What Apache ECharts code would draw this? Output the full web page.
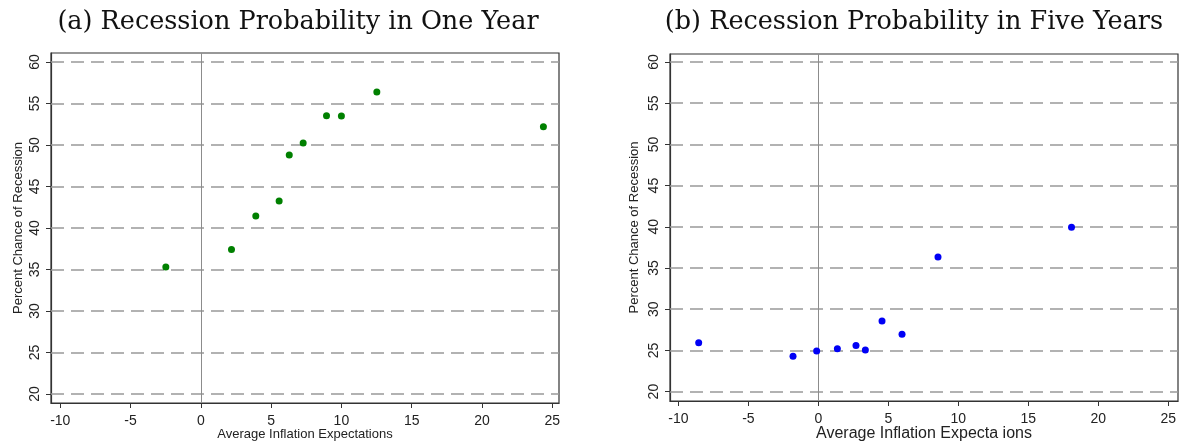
<!DOCTYPE html>
<html>
<head>
<meta charset="utf-8">
<script src="https://cdn.jsdelivr.net/npm/echarts@6/dist/echarts.min.js"></script>
<style>
html,body{margin:0;padding:0;background:#fff;}
#chart{width:1181px;height:447px;}
</style>
</head>
<body>
<div id="chart"></div>
<script>
// ---- data ----
const titles = ['(a) Recession Probability in One Year', '(b) Recession Probability in Five Years'];
const xNames = ['Average Inflation Expectations', 'Average Inflation Expecta ions'];
const yName = 'Percent Chance of Recession';
const xTicks = [-10, -5, 0, 5, 10, 15, 20, 25];
const yTicks = [20, 25, 30, 35, 40, 45, 50, 55, 60];
const oneYearX = [-2.49, 2.18, 3.91, 5.57, 6.29, 7.28, 8.94, 10.0, 12.52, 24.37];
const oneYearY = [35.3, 37.4, 41.45, 43.25, 48.8, 50.24, 53.53, 53.5, 56.39, 52.2];
const fiveYearX = [-8.55, -1.81, -0.12, 1.36, 2.69, 3.36, 4.55, 5.98, 8.55, 18.09];
const fiveYearY = [25.94, 24.3, 24.92, 25.2, 25.6, 25.04, 28.57, 26.95, 36.34, 39.95];

const sans = '"Liberation Sans", Arial, sans-serif';
const serif = '"DejaVu Serif", "Liberation Serif", serif';

function pairs(xs, ys) { return xs.map((x, i) => [x, ys[i]]); }

const grids = [
  {left: 51, top: 53, right: 622, bottom: 44},
  {left: 670, top: 54, right: 3, bottom: 46}
];
const xRanges = [[-10.66, 25.48], [-10.6, 25.7]];
const yRanges = [[18.92, 61.08], [18.86, 60.97]];
const xNameStyle = [{fontSize: 13, gap: 25}, {fontSize: 16, gap: 25}];
const yNameGap = [26, 29];

const chart = echarts.init(document.getElementById('chart'), null, {renderer: 'canvas'});

const xAxis = [0, 1].map(i => ({
  gridIndex: i, type: 'value', min: xRanges[i][0], max: xRanges[i][1],
  name: xNames[i], nameLocation: 'middle', nameGap: xNameStyle[i].gap, nameMoveOverlap: false,
  nameTextStyle: {fontFamily: sans, fontSize: xNameStyle[i].fontSize, color: '#222'},
  axisLine: {show: true, onZero: false, lineStyle: {color: '#333', width: 1.2}},
  axisTick: {show: true, customValues: xTicks, length: 5, lineStyle: {color: '#333'}},
  axisLabel: {customValues: xTicks, fontFamily: sans, fontSize: 14, color: '#222', margin: 11},
  splitLine: {show: false}
}));
const yAxis = [0, 1].map(i => ({
  gridIndex: i, type: 'value', min: yRanges[i][0], max: yRanges[i][1],
  name: yName, nameLocation: 'middle', nameGap: yNameGap[i], nameRotate: 90, nameMoveOverlap: false,
  nameTextStyle: {fontFamily: sans, fontSize: 13, color: '#222'},
  axisLine: {show: true, onZero: false, lineStyle: {color: '#333', width: 1.2}},
  axisTick: {show: true, customValues: yTicks, length: 5, lineStyle: {color: '#333'}},
  axisLabel: {customValues: yTicks, rotate: 90, fontFamily: sans, fontSize: 14, color: '#222', margin: 9},
  splitLine: {show: false}
}));

function guideSeries(i) {
  return {
    type: 'scatter', xAxisIndex: i, yAxisIndex: i, data: [], silent: true, z: 1,
    markLine: {
      silent: true, symbol: ['none', 'none'], label: {show: false}, animation: false,
      data: yTicks.map(v => ({yAxis: v, lineStyle: {color: '#999', width: 1.6, type: [13, 7]}}))
        .concat([{xAxis: 0, lineStyle: {color: '#8c8c8c', width: 1, type: 'solid'}}])
    }
  };
}

const option = {
  animation: false,
  backgroundColor: '#fff',
  title: [
    {text: titles[0], left: 293, top: 4, textAlign: 'center',
     textStyle: {fontFamily: serif, fontSize: 25.5, fontWeight: 'normal', color: '#111'}},
    {text: titles[1], left: 909, top: 4, textAlign: 'center',
     textStyle: {fontFamily: serif, fontSize: 25.5, fontWeight: 'normal', color: '#111'}}
  ],
  grid: grids.map(g => Object.assign({show: true, borderColor: '#333', borderWidth: 1.2, backgroundColor: '#fff',
    outerBoundsMode: 'none', containLabel: false}, g)),
  xAxis: xAxis,
  yAxis: yAxis,
  series: [
    guideSeries(0),
    guideSeries(1),
    {type: 'scatter', xAxisIndex: 0, yAxisIndex: 0, data: pairs(oneYearX, oneYearY), z: 5,
     symbolSize: 7, itemStyle: {color: '#008000', opacity: 1}},
    {type: 'scatter', xAxisIndex: 1, yAxisIndex: 1, data: pairs(fiveYearX, fiveYearY), z: 5,
     symbolSize: 7, itemStyle: {color: '#0000f5', opacity: 1}}
  ]
};
chart.setOption(option);
</script>
</body>
</html>
